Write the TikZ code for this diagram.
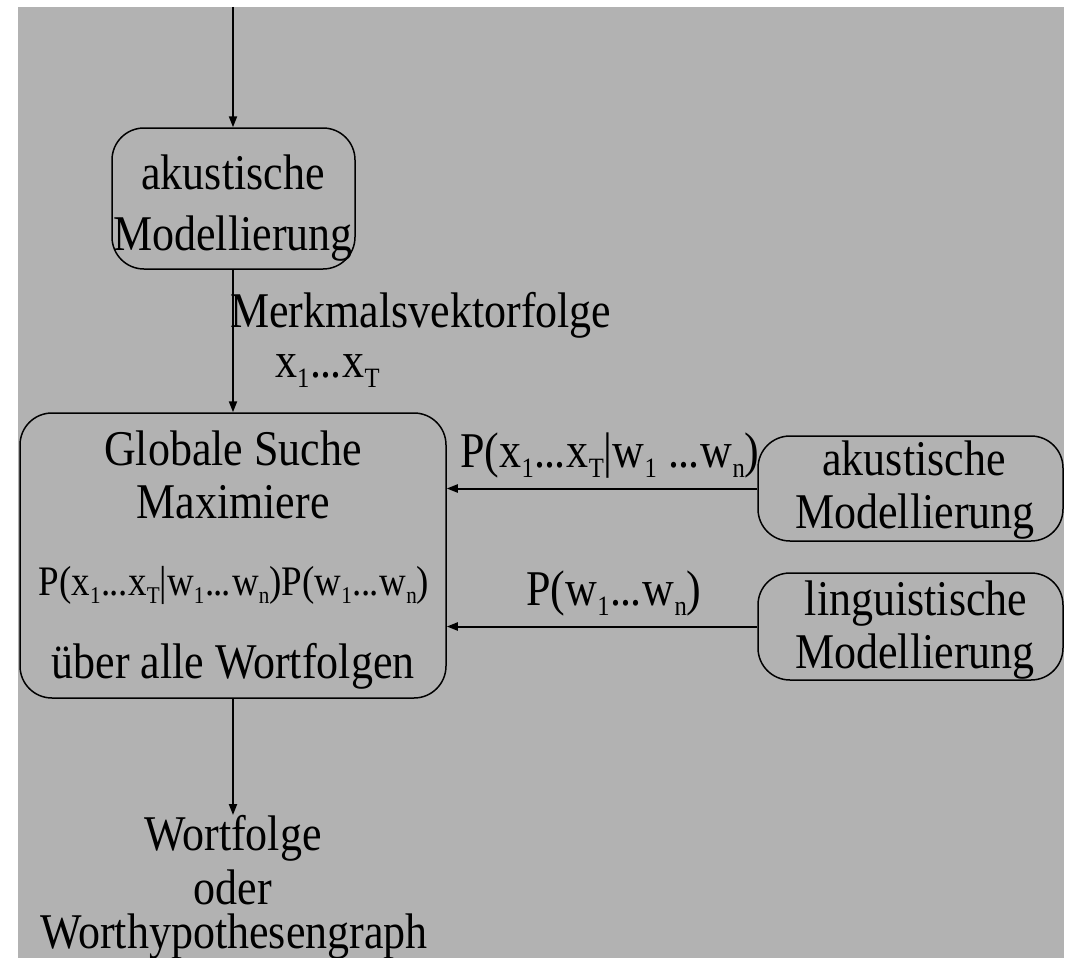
\documentclass[tikz,border=0pt]{standalone}
\usepackage{fontspec}
\setmainfont{Liberation Serif}[FakeStretch=0.88]
\usetikzlibrary{arrows.meta}
\definecolor{bg}{RGB}{178,178,178}
\newcommand\sbA[1]{\raisebox{-10pt}{\fontsize{28}{28}\selectfont #1}}
\newcommand\sbB[1]{\raisebox{-8pt}{\fontsize{24}{24}\selectfont #1}}
\newcommand\dts{\kern1pt.\kern-1pt.\kern-1pt.\kern1pt}
\begin{document}
\begin{tikzpicture}[x=1pt,y=-1pt,
  box/.style={draw, line width=1.5pt, rounded corners=32pt, inner sep=0pt},
  txt/.style={anchor=base, inner sep=0pt, font=\fontsize{50}{50}\selectfont},
  small/.style={anchor=base, inner sep=0pt, font=\fontsize{42}{42}\selectfont},
  arr/.style={line width=2pt, -{Triangle[length=11pt,width=8pt]}}]
\useasboundingbox (0,0) rectangle (1066,958);
\fill[white] (0,0) rectangle (1066,958);
\fill[bg] (18,7) rectangle (1064,958);

% boxes
\node[box, minimum width=243pt, minimum height=141pt] (top) at (233.5,198.5) {};
\node[box, minimum width=426pt, minimum height=285pt] (big) at (233,555.5) {};
\node[box, minimum width=305pt, minimum height=105pt] (r1) at (910.5,488.5) {};
\node[box, minimum width=305pt, minimum height=107pt] (r2) at (910.5,626.5) {};

% texts
\node[txt] (t1) at (233,189) {akustische};
\node[txt] (t2) at (233,250) {Modellierung};
\node[txt, anchor=base west] (mv) at (230,327) {Merkmalsvektorfolge};
\node[txt, anchor=base west] (xs) at (275,377) {x\sbA{1}\dts x\sbA{T}};
\node[txt] (g1) at (233,465) {Globale Suche};
\node[txt] (g2) at (233,518) {Maximiere};
\node[small] (g3) at (234,595) {P(x\sbB{1}\dts x\sbB{T}|w\sbB{1}\dts w\sbB{n})P(w\sbB{1}\dts w\sbB{n})};
\node[txt] (g4) at (233,678) {über alle Wortfolgen};
\node[txt] (l1) at (610,467) {P(x\sbA{1}\dts x\sbA{T}|w\sbA{1} \dts w\sbA{n})};
\node[txt] (l2) at (614,605) {P(w\sbA{1}\dts w\sbA{n})};
\node[txt] (a1) at (914,475) {akustische};
\node[txt] (a2) at (915,528) {Modellierung};
\node[txt] (b1) at (916,615) {linguistische};
\node[txt] (b2) at (915,668) {Modellierung};
\node[txt] (o1) at (233,850) {Wortfolge};
\node[txt, text depth=0pt] (o2) at (233,904) {oder};
\node[txt, text height=30pt] (o3) at (234,948) {Worthypothesengraph};

% connectors
\coordinate (in) at (233,7);
\coordinate (out) at (233,815);
\draw[arr] (in) -- (in |- top.north);
\draw[arr] (top.south -| in) -- (in |- big.north);
\draw[arr] (r1.west) -- (big.east |- r1.west);
\draw[arr] (r2.west) -- (big.east |- r2.west);
\draw[arr] (in |- big.south) -- (out);
\end{tikzpicture}
\end{document}
